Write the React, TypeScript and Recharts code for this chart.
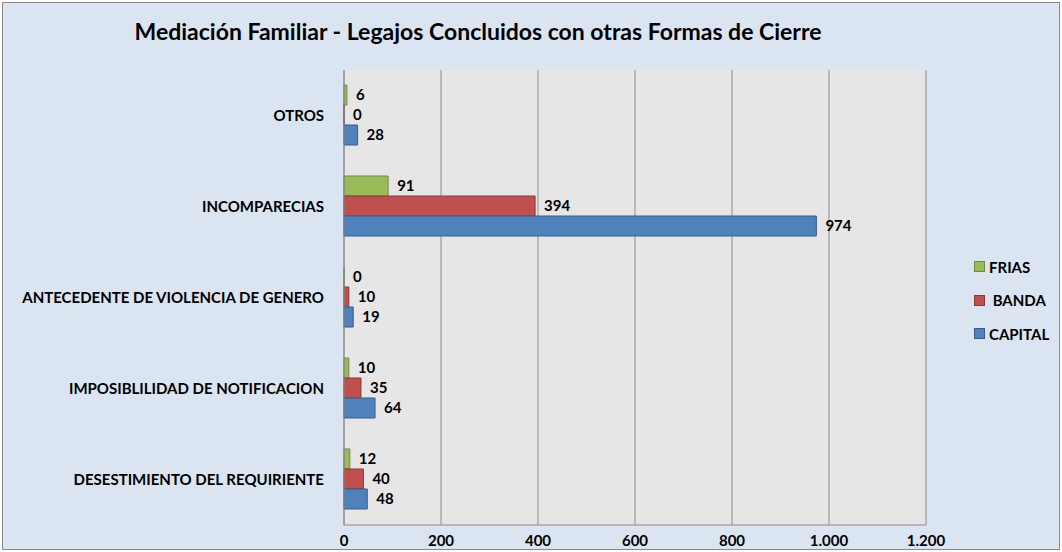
import { BarChart, Bar, XAxis, YAxis, CartesianGrid, LabelList } from "recharts";

const categories = [
  "OTROS",
  "INCOMPARECIAS",
  "ANTECEDENTE DE VIOLENCIA DE GENERO",
  "IMPOSIBLILIDAD DE NOTIFICACION",
  "DESESTIMIENTO DEL REQUIRIENTE",
];
const frias = [6, 91, 0, 10, 12];
const banda = [0, 394, 10, 35, 40];
const capital = [28, 974, 19, 64, 48];
const xTicks = [0, 200, 400, 600, 800, 1000, 1200];

const series = [
  { key: "frias", name: "FRIAS", fill: "#9bbb59", stroke: "#71893f" },
  { key: "banda", name: " BANDA", fill: "#c0504d", stroke: "#8c3836" },
  { key: "capital", name: "CAPITAL", fill: "#4f81bd", stroke: "#385d8a" },
];

const data = categories.map((name, i) => ({
  name,
  frias: frias[i],
  banda: banda[i],
  capital: capital[i],
}));

const font = "Lato, 'Open Sans', sans-serif";

const fmt = (v: number) => v.toLocaleString("es-AR");

function LegendBox() {
  return (
    <div style={{ fontFamily: font, fontWeight: 700, fontSize: 15, color: "#000" }}>
      {series.map((s) => (
        <div key={s.key} style={{ display: "flex", alignItems: "center", height: 33.5 }}>
          <span
            style={{
              display: "inline-block",
              width: 9,
              height: 9,
              background: s.fill,
              border: `1px solid ${s.stroke}`,
              marginRight: 4,
            }}
          />
          <span style={{ whiteSpace: "pre" }}>{s.name}</span>
        </div>
      ))}
    </div>
  );
}

export default function App() {
  return (
    <div
      style={{
        position: "absolute",
        left: 0,
        top: 0,
        width: 1062,
        height: 552,
        background: "#fff",
      }}
    >
      <div
        style={{
          position: "absolute",
          left: 2,
          top: 2,
          width: 1056,
          height: 546,
          background: "#dbe5f1",
          border: "1px solid #8a8a8a",
        }}
      />
      <div
        style={{
          position: "absolute",
          left: 0,
          top: 17,
          width: 956,
          textAlign: "center",
          fontFamily: font,
          fontWeight: 700,
          fontSize: 23,
          color: "#000",
        }}
      >
        Mediación Familiar - Legajos Concluidos con otras Formas de Cierre
      </div>
      <div style={{ position: "absolute", left: 0, top: 0 }}>
        <BarChart
          width={1062}
          height={552}
          data={data}
          layout="vertical"
          margin={{ top: 70, right: 136, bottom: 0, left: 0 }}
          barCategoryGap={15}
          barGap={0}
        >
          <CartesianGrid horizontal={false} stroke="#8c8c8c" fill="#e6e6e6" />
          <XAxis
            type="number"
            domain={[0, 1200]}
            ticks={xTicks}
            height={27}
            tickSize={0}
            tickMargin={10}
            tickFormatter={fmt}
            axisLine={{ stroke: "#8c8c8c" }}
            tick={{ fill: "#000", fontFamily: font, fontWeight: 700, fontSize: 15 }}
          />
          <YAxis
            type="category"
            dataKey="name"
            width={344}
            tickSize={0}
            tickMargin={20}
            axisLine={{ stroke: "#8c8c8c" }}
            tick={{ fill: "#000", fontFamily: font, fontWeight: 700, fontSize: 15 }}
          />
          {series.map((s) => (
            <Bar
              key={s.key}
              dataKey={s.key}
              name={s.name}
              fill={s.fill}
              stroke={s.stroke}
              minPointSize={0.01}
              isAnimationActive={false}
            >
              <LabelList
                dataKey={s.key}
                position="right"
                offset={9}
                formatter={(v: any) => fmt(Number(v))}
                style={{ fill: "#000", fontFamily: font, fontWeight: 700, fontSize: 15 }}
              />
            </Bar>
          ))}
        </BarChart>
      </div>
      <div style={{ position: "absolute", left: 974, top: 250 }}>
        <LegendBox />
      </div>
    </div>
  );
}
